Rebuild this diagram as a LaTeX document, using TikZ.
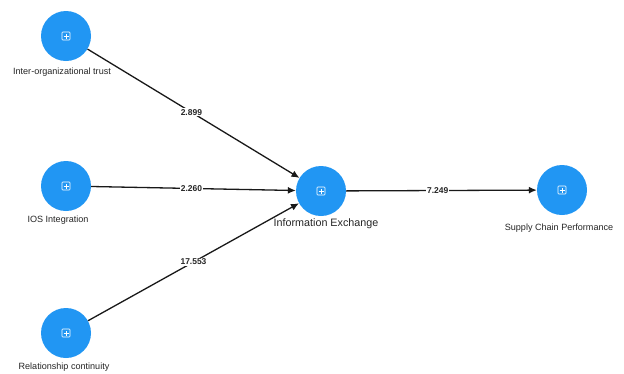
\documentclass[tikz,border=0pt]{standalone}
\usepackage{fontspec}
\setmainfont{Liberation Sans}
\usetikzlibrary{arrows.meta}
\definecolor{lvblue}{RGB}{33,150,243}
\tikzset{
  construct/.style={circle,fill=lvblue,minimum size=50bp,inner sep=0pt,
    path picture={
      \draw[white,line width=0.6bp,rounded corners=0.8bp]
        ([xshift=-4bp,yshift=-4bp]path picture bounding box.center) rectangle
        ([xshift=4bp,yshift=4bp]path picture bounding box.center);
      \draw[white,line width=0.6bp]
        ([xshift=-2.5bp]path picture bounding box.center) -- ([xshift=2.5bp]path picture bounding box.center)
        ([yshift=-2.5bp]path picture bounding box.center) -- ([yshift=2.5bp]path picture bounding box.center);
    }},
  clabel/.style={font=\fontsize{9.1}{10}\selectfont,text=black!85,inner sep=0pt},
  path/.style={draw=black!90,line width=1.3bp,-{Latex[length=8bp,width=7bp]}},
  coef/.style={fill=white,inner sep=1bp,font=\bfseries\fontsize{8.5}{9}\selectfont,text=black!85}
}
\begin{document}
\begin{tikzpicture}[x=1bp,y=-1bp]
  \useasboundingbox[fill=white] (0,0) rectangle (624,373);
  % latent constructs
  \node[construct] (trust) at (66,36) {};
  \node[construct] (ios) at (66,186) {};
  \node[construct] (rel) at (66,333) {};
  \node[construct] (ie) at (321,191) {};
  \node[construct] (scp) at (562,190) {};
  % construct names
  \node[clabel] (ltrust) at (62,72) {Inter-organizational trust};
  \node[clabel] (lios) at (58,220) {IOS Integration};
  \node[clabel] (lrel) at (64,367) {Relationship continuity};
  \node[clabel,font=\fontsize{10.8}{12}\selectfont] (lie) at (326,224) {Information Exchange};
  \node[clabel] (lscp) at (559,228) {Supply Chain Performance};
  % structural paths with t-values
  \path[path] (trust) -- node[coef,pos=0.49] {2.899} (ie);
  \path[path] (ios) -- node[coef,pos=0.49] {2.260} (ie);
  \path[path] (rel) -- node[coef,pos=0.50] {17.553} (ie);
  \path[path] (ie) -- node[coef,pos=0.48] {7.249} (scp);
\end{tikzpicture}
\end{document}
